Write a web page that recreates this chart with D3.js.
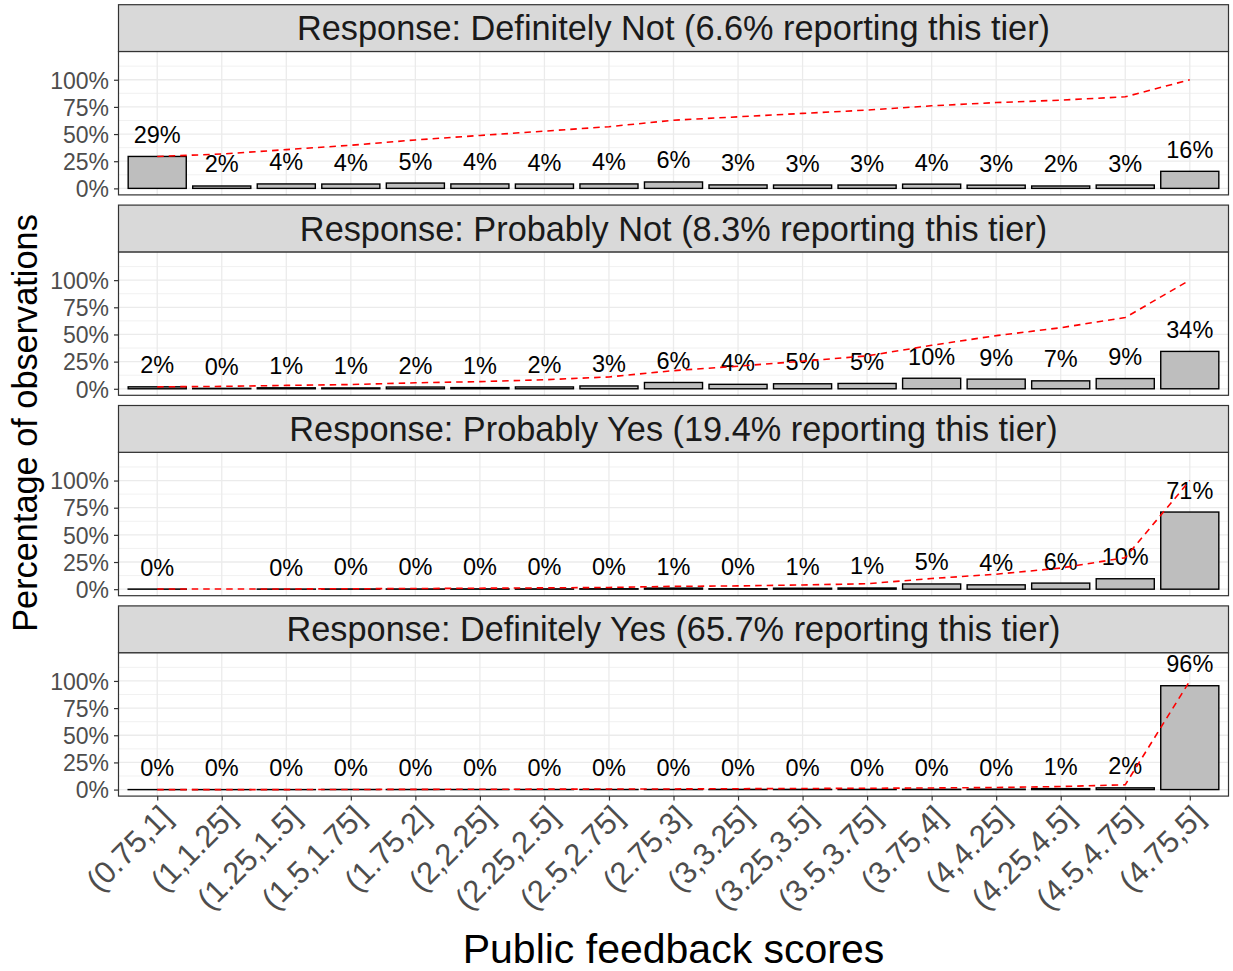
<!DOCTYPE html>
<html>
<head>
<meta charset="utf-8">
<script src="https://cdn.jsdelivr.net/npm/d3@7"></script>
<style>
  html, body { margin: 0; padding: 0; background: #fff; }
  svg { display: block; font-family: "Liberation Sans", Arial, Helvetica, sans-serif; }
</style>
</head>
<body>
<svg id="chart" width="1233" height="971"></svg>
<script>
// ---------------- data ----------------
const categories = ["(0.75,1]", "(1,1.25]", "(1.25,1.5]", "(1.5,1.75]", "(1.75,2]", "(2,2.25]",
  "(2.25,2.5]", "(2.5,2.75]", "(2.75,3]", "(3,3.25]", "(3.25,3.5]", "(3.5,3.75]", "(3.75,4]",
  "(4,4.25]", "(4.25,4.5]", "(4.5,4.75]", "(4.75,5]"];
const tierNames = ["Definitely Not", "Probably Not", "Probably Yes", "Definitely Yes"];
const tierShares = ["6.6", "8.3", "19.4", "65.7"];
const definitelyNot = [29.4, 2.2, 4.1, 4.0, 4.9, 4.1, 4.0, 4.1, 5.9, 3.2, 3.1, 3.1, 3.9, 3.0, 2.2, 3.1, 15.7];
const probablyNot   = [1.8, 0.4, 0.9, 0.8, 1.6, 1.1, 1.7, 2.6, 5.8, 4.1, 4.6, 4.9, 9.7, 8.9, 7.3, 9.4, 34.4];
const probablyYes   = [0.1, null, 0.1, 0.2, 0.2, 0.3, 0.3, 0.4, 1.0, 0.4, 0.9, 1.1, 4.8, 4.0, 5.6, 9.6, 71.0];
const definitelyYes = [0.0, 0.0, 0.0, 0.1, 0.1, 0.1, 0.1, 0.1, 0.1, 0.2, 0.2, 0.2, 0.3, 0.4, 0.9, 1.6, 95.6];
const yTicks = [0, 25, 50, 75, 100];
const yMinorTicks = [12.5, 37.5, 62.5, 87.5, 112.5];
const xTitle = "Public feedback scores";
const yTitle = "Percentage of observations";

const seriesList = [definitelyNot, probablyNot, probablyYes, definitelyYes];

// ---------------- layout ----------------
const svg = d3.select("#chart");
const L = 118.5, R = 1228.5;
const stripTop0 = 4.7, period = 200.4, stripH = 46.8, panelH = 143.4;
const FONT = "'Liberation Sans', Arial, sans-serif";

const x = d3.scalePoint().domain(categories).range([L, R]).padding(0.6);
const step = x.step();
const barW = step * 0.9;

seriesList.forEach((vals, i) => {
  const sTop = stripTop0 + i * period;
  const pTop = sTop + stripH;
  const pBot = pTop + panelH;
  const y = d3.scaleLinear().domain([-6, 126]).range([pBot, pTop]);

  const data = categories.map((c, j) => ({ cat: c, v: vals[j] })).filter(d => d.v !== null);
  let cum = 0;
  data.forEach(d => { cum += d.v; d.cum = cum; });

  const g = svg.append("g");

  g.append("rect").attr("x", L).attr("y", pTop).attr("width", R - L).attr("height", panelH)
    .attr("fill", "#fff");

  g.selectAll(".minor").data(yMinorTicks).enter().append("line")
    .attr("x1", L).attr("x2", R).attr("y1", d => y(d)).attr("y2", d => y(d))
    .attr("stroke", "#EBEBEB").attr("stroke-width", 0.7);
  g.selectAll(".majorY").data(yTicks).enter().append("line")
    .attr("x1", L).attr("x2", R).attr("y1", d => y(d)).attr("y2", d => y(d))
    .attr("stroke", "#EBEBEB").attr("stroke-width", 1.3);
  g.selectAll(".majorX").data(categories).enter().append("line")
    .attr("x1", d => x(d)).attr("x2", d => x(d)).attr("y1", pTop).attr("y2", pBot)
    .attr("stroke", "#EBEBEB").attr("stroke-width", 1.3);

  g.selectAll(".bar").data(data).enter().append("rect")
    .attr("x", d => x(d.cat) - barW / 2)
    .attr("width", barW)
    .attr("y", d => y(d.v))
    .attr("height", d => Math.max(0.05, y(0) - y(d.v)))
    .attr("fill", "#BEBEBE")
    .attr("stroke", "#000")
    .attr("stroke-width", 1.4);

  g.selectAll(".lab").data(data).enter().append("text")
    .attr("x", d => x(d.cat))
    .attr("y", d => y(d.v) - 13.5)
    .attr("text-anchor", "middle")
    .attr("font-size", 23.5)
    .attr("fill", "#000")
    .text(d => Math.round(d.v) + "%");

  const line = d3.line().x(d => x(d.cat)).y(d => y(d.cum));
  g.append("path").datum(data).attr("d", line)
    .attr("fill", "none").attr("stroke", "#FF0000").attr("stroke-width", 1.6)
    .attr("stroke-dasharray", "6.5,5");

  g.append("rect").attr("x", L).attr("y", pTop).attr("width", R - L).attr("height", panelH)
    .attr("fill", "none").attr("stroke", "#333333").attr("stroke-width", 1.2);

  g.append("rect").attr("x", L).attr("y", sTop).attr("width", R - L).attr("height", stripH)
    .attr("fill", "#D9D9D9").attr("stroke", "#333333").attr("stroke-width", 1.2);
  g.append("text").attr("x", (L + R) / 2).attr("y", sTop + stripH / 2 + 12)
    .attr("text-anchor", "middle").attr("font-size", 34.3).attr("fill", "#1A1A1A")
    .text(`Response: ${tierNames[i]} (${tierShares[i]}% reporting this tier)`);

  const yAxis = g.append("g").attr("transform", `translate(${L},0)`)
    .call(d3.axisLeft(y).tickValues(yTicks).tickFormat(d => d + "%").tickSize(4.5).tickPadding(5));
  yAxis.select(".domain").remove();
  yAxis.selectAll(".tick line").attr("stroke", "#333333").attr("stroke-width", 1.2);
  yAxis.selectAll(".tick text").attr("fill", "#4D4D4D").attr("font-size", 23)
    .attr("font-family", FONT).attr("dy", "0.36em");

  if (i === seriesList.length - 1) {
    const xAxis = g.append("g").attr("transform", `translate(0,${pBot})`)
      .call(d3.axisBottom(x).tickSize(4.5).tickPadding(0));
    xAxis.select(".domain").remove();
    xAxis.selectAll(".tick line").attr("stroke", "#333333").attr("stroke-width", 1.2);
    xAxis.selectAll(".tick text")
      .attr("fill", "#4D4D4D").attr("font-size", 31)
      .attr("font-family", FONT)
      .attr("text-anchor", "end")
      .attr("x", 0).attr("y", 0).attr("dy", "0.72em")
      .attr("transform", "translate(0,7) rotate(-45)");
  }
});

svg.append("text").attr("x", (L + R) / 2).attr("y", 963)
  .attr("text-anchor", "middle").attr("font-size", 41).attr("fill", "#000").text(xTitle);
svg.append("text").attr("transform", "translate(37,423) rotate(-90)")
  .attr("text-anchor", "middle").attr("font-size", 34.3).attr("fill", "#000").text(yTitle);
</script>
</body>
</html>
